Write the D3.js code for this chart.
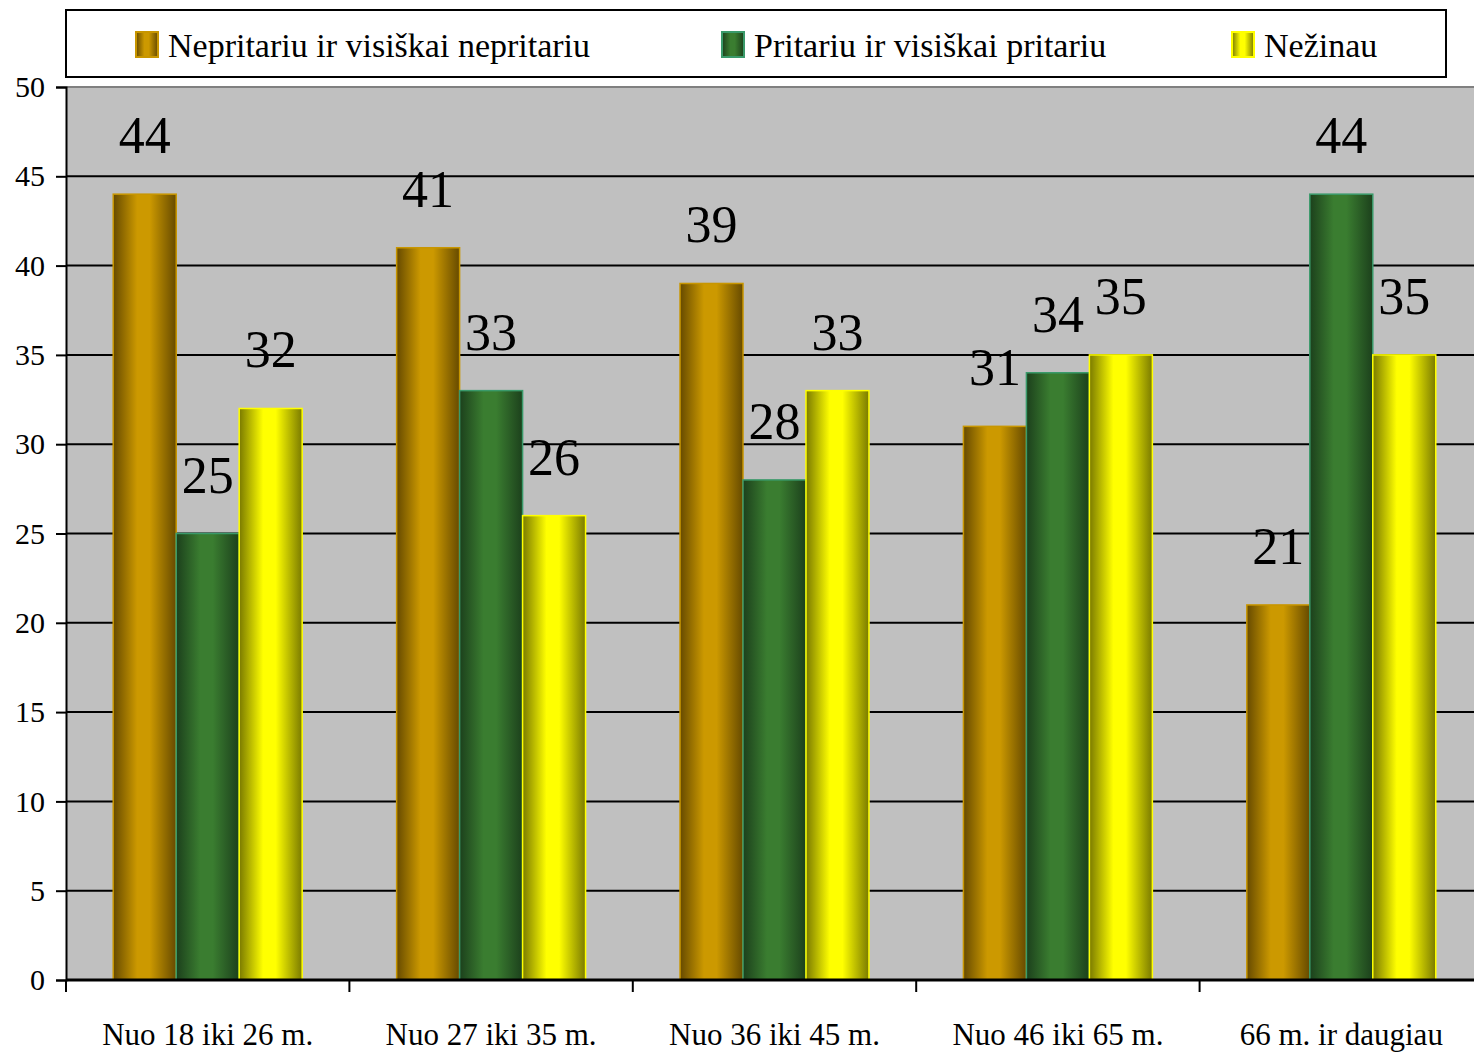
<!DOCTYPE html>
<html>
<head>
<meta charset="utf-8">
<script src="https://cdn.jsdelivr.net/npm/d3@7"></script>
<style>
  body { margin: 0; background: #fff; }
  svg { display: block; }
  svg text { font-family: "Liberation Serif", "DejaVu Serif", serif; }
</style>
</head>
<body>
<svg id="chart" width="1474" height="1055"></svg>
<script>
var categories = ["Nuo 18 iki 26 m.", "Nuo 27 iki 35 m.", "Nuo 36 iki 45 m.", "Nuo 46 iki 65 m.", "66 m. ir daugiau"];
var seriesNames = ["Nepritariu ir visiškai nepritariu", "Pritariu ir visiškai pritariu", "Nežinau"];
var disagree = [44, 41, 39, 31, 21];
var agree = [25, 33, 28, 34, 44];
var dontKnow = [32, 26, 33, 35, 35];
var yTicks = [0, 5, 10, 15, 20, 25, 30, 35, 40, 45, 50];

(function () {
    "use strict";
    var seriesValues = [disagree, agree, dontKnow];
    var serif = "'Liberation Serif', 'DejaVu Serif', serif";
    // gradient stops: edge, middle, stroke
    var palette = [
        { dark: "#664a00", light: "#cc9900", stroke: "#c89600" },
        { dark: "#1c401c", light: "#3a7d30", stroke: "#3a9a6a" },
        { dark: "#7a7a00", light: "#ffff00", stroke: "#ffff00" }
    ];

    var svg = d3.select("#chart");
    var plotLeft = 66, plotRight = 1483, plotTop = 87, plotBottom = 980;

    var x0 = d3.scaleBand().domain(categories).range([plotLeft, plotRight]);
    var x1 = d3.scaleBand().domain([0, 1, 2]).range([0, x0.bandwidth()]).paddingInner(0).paddingOuter(0.75);
    var y = d3.scaleLinear().domain([0, 50]).range([plotBottom, plotTop]);

    var defs = svg.append("defs");
    palette.forEach(function (p, i) {
        var g = defs.append("linearGradient").attr("id", "grad" + i)
            .attr("x1", "0%").attr("x2", "100%").attr("y1", "0%").attr("y2", "0%");
        g.append("stop").attr("offset", "0%").attr("stop-color", p.dark);
        g.append("stop").attr("offset", "38%").attr("stop-color", p.light);
        g.append("stop").attr("offset", "58%").attr("stop-color", p.light);
        g.append("stop").attr("offset", "100%").attr("stop-color", p.dark);
    });

    // plot background
    svg.append("rect")
        .attr("x", plotLeft).attr("y", plotTop)
        .attr("width", plotRight - plotLeft).attr("height", plotBottom - plotTop)
        .attr("fill", "#c0c0c0");
    svg.append("line")
        .attr("x1", plotLeft).attr("x2", plotRight).attr("y1", plotTop).attr("y2", plotTop)
        .attr("stroke", "#808080").attr("stroke-width", 2);

    // gridlines
    svg.append("g").selectAll("line")
        .data(yTicks.filter(function (d) { return d > 0 && d < 50; }))
        .enter().append("line")
        .attr("x1", plotLeft).attr("x2", plotRight)
        .attr("y1", function (d) { return y(d); })
        .attr("y2", function (d) { return y(d); })
        .attr("stroke", "#000").attr("stroke-width", 2);

    // bars
    var groups = svg.append("g").selectAll("g")
        .data(categories)
        .enter().append("g")
        .attr("transform", function (d) { return "translate(" + x0(d) + ",0)"; });

    var cells = function (d, ci) {
        return seriesValues.map(function (s, si) { return { s: si, v: s[ci] }; });
    };

    groups.selectAll("rect")
        .data(cells)
        .enter().append("rect")
        .attr("x", function (d) { return x1(d.s); })
        .attr("width", x1.bandwidth())
        .attr("y", function (d) { return y(d.v); })
        .attr("height", function (d) { return plotBottom - y(d.v); })
        .attr("fill", function (d) { return "url(#grad" + d.s + ")"; })
        .attr("stroke", function (d) { return palette[d.s].stroke; })
        .attr("stroke-width", 1.5);

    groups.selectAll("text")
        .data(cells)
        .enter().append("text")
        .attr("x", function (d) { return x1(d.s) + x1.bandwidth() / 2; })
        .attr("y", function (d) { return y(d.v) - 41; })
        .attr("text-anchor", "middle")
        .attr("font-family", serif)
        .attr("font-size", 52)
        .attr("fill", "#000")
        .text(function (d) { return d.v; });

    // y axis
    var yAxis = d3.axisLeft(y).tickValues(yTicks).tickSize(10).tickPadding(8);
    var yg = svg.append("g").attr("transform", "translate(" + plotLeft + ",0)").call(yAxis);
    yg.attr("font-family", serif);
    yg.select(".domain").attr("stroke", "#000").attr("stroke-width", 2);
    yg.selectAll(".tick line").attr("stroke", "#000").attr("stroke-width", 2);
    yg.selectAll(".tick text").attr("font-size", 30).attr("fill", "#000")
        .attr("font-family", serif).attr("dy", "0.32em").attr("x", -21);

    // x axis
    svg.append("line")
        .attr("x1", plotLeft).attr("x2", plotRight).attr("y1", plotBottom).attr("y2", plotBottom)
        .attr("stroke", "#000").attr("stroke-width", 3);
    svg.append("g").selectAll("line")
        .data(categories)
        .enter().append("line")
        .attr("x1", function (d) { return x0(d); })
        .attr("x2", function (d) { return x0(d); })
        .attr("y1", plotBottom).attr("y2", plotBottom + 12)
        .attr("stroke", "#000").attr("stroke-width", 2);
    svg.append("g").selectAll("text")
        .data(categories)
        .enter().append("text")
        .attr("x", function (d) { return x0(d) + x0.bandwidth() / 2; })
        .attr("y", 1045)
        .attr("text-anchor", "middle")
        .attr("font-family", serif)
        .attr("font-size", 31)
        .attr("fill", "#000")
        .text(function (d) { return d; });

    // legend
    svg.append("rect")
        .attr("x", 66).attr("y", 10).attr("width", 1380).attr("height", 67)
        .attr("fill", "#fff").attr("stroke", "#000").attr("stroke-width", 2);
    var legendX = [136, 722, 1232];
    var legend = svg.append("g").selectAll("g")
        .data(seriesNames)
        .enter().append("g")
        .attr("transform", function (d, i) { return "translate(" + legendX[i] + ",0)"; });
    legend.append("rect")
        .attr("x", 0).attr("y", 32).attr("width", 22).attr("height", 25)
        .attr("fill", function (d, i) { return "url(#grad" + i + ")"; })
        .attr("stroke", function (d, i) { return palette[i].stroke; })
        .attr("stroke-width", 2);
    legend.append("text")
        .attr("x", 32).attr("y", 57)
        .attr("font-family", serif)
        .attr("font-size", 34)
        .attr("fill", "#000")
        .text(function (d) { return d; });
}());
</script>
</body>
</html>
